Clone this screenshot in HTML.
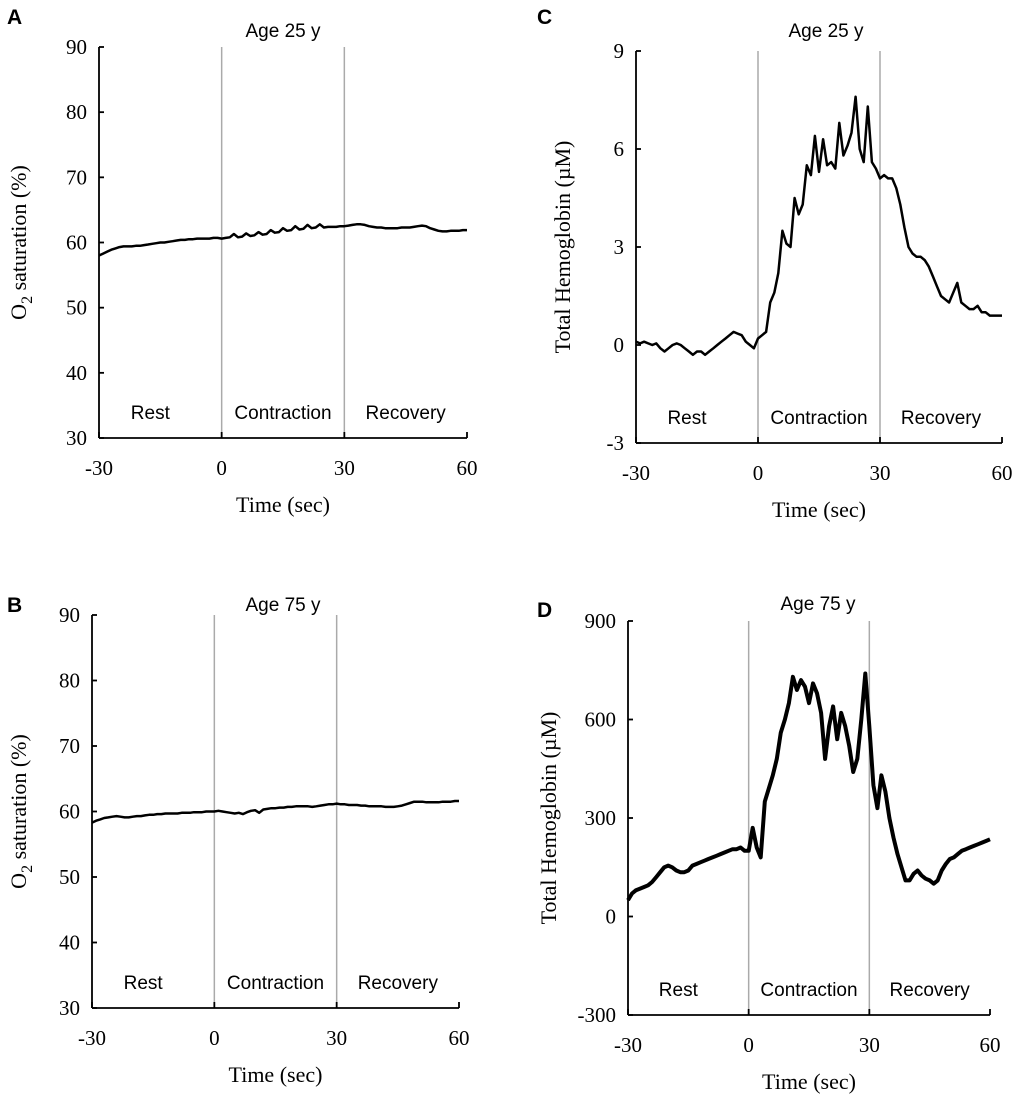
<!DOCTYPE html>
<html><head><meta charset="utf-8"><style>
body{margin:0;background:#fff}
svg text{fill:#000}
.tk{font-family:"Liberation Serif",serif;font-size:21px}
.sn{font-family:"Liberation Sans","DejaVu Sans",sans-serif;font-size:19px}
.ax{font-family:"Liberation Serif",serif;font-size:22px}
.lt{font-family:"Liberation Sans",sans-serif;font-size:21px;font-weight:bold}
</style></head><body>
<svg id="c" width="1020" height="1098" xmlns="http://www.w3.org/2000/svg"></svg>
<script>
const xTicks=[-30,0,30,60];
const aTicks=[30,40,50,60,70,80,90];
const cTicks=[-3,0,3,6,9];
const dTicks=[-300,0,300,600,900];
const timeSec=[];for(let t=-30;t<=60;t++)timeSec.push(t);
const seriesA=[58,58.3,58.6,58.9,59.1,59.3,59.4,59.4,59.4,59.5,59.5,59.6,59.7,59.8,59.9,60,60,60.1,60.2,60.3,60.4,60.4,60.5,60.5,60.6,60.6,60.6,60.6,60.7,60.7,60.6,60.7,60.8,61.3,60.8,60.9,61.4,61,61.1,61.6,61.2,61.3,61.9,61.5,61.6,62.2,61.8,61.9,62.5,62,62.1,62.7,62.2,62.3,62.8,62.3,62.4,62.4,62.4,62.5,62.5,62.6,62.7,62.8,62.8,62.7,62.5,62.4,62.3,62.3,62.2,62.2,62.2,62.2,62.3,62.3,62.3,62.4,62.5,62.6,62.5,62.2,62,61.8,61.7,61.7,61.8,61.8,61.8,61.9,61.9];
const seriesB=[58.3,58.6,58.8,59,59.1,59.2,59.3,59.2,59.1,59.1,59.2,59.3,59.3,59.4,59.5,59.5,59.6,59.6,59.7,59.7,59.7,59.7,59.8,59.8,59.8,59.9,59.9,59.9,60,60,60,60.1,60,59.9,59.8,59.7,59.8,59.6,59.9,60.1,60.2,59.8,60.3,60.4,60.5,60.5,60.6,60.6,60.7,60.7,60.8,60.8,60.8,60.8,60.7,60.8,60.9,61,61.1,61.1,61.2,61.1,61.1,61,61,61,60.9,60.9,60.8,60.8,60.8,60.8,60.7,60.7,60.7,60.8,60.9,61.1,61.3,61.5,61.5,61.5,61.4,61.4,61.4,61.4,61.5,61.5,61.5,61.6,61.6];
const seriesC=[0.1,0.05,0.1,0.05,0,0.05,-0.1,-0.2,-0.1,0,0.05,0,-0.1,-0.2,-0.3,-0.2,-0.2,-0.3,-0.2,-0.1,0,0.1,0.2,0.3,0.4,0.35,0.3,0.1,0,-0.1,0.2,0.3,0.4,1.3,1.6,2.2,3.5,3.1,3,4.5,4,4.3,5.5,5.2,6.4,5.3,6.3,5.5,5.6,5.4,6.8,5.8,6.1,6.5,7.6,6,5.6,7.3,5.6,5.4,5.1,5.2,5.1,5.1,4.8,4.3,3.6,3,2.8,2.7,2.7,2.6,2.4,2.1,1.8,1.5,1.4,1.3,1.6,1.9,1.3,1.2,1.1,1.1,1.2,1,1,0.9,0.9,0.9,0.9];
const seriesD=[50,70,80,85,90,95,105,120,135,150,155,150,140,135,135,140,155,160,165,170,175,180,185,190,195,200,205,205,210,200,200,270,210,180,350,390,430,480,560,600,650,730,690,720,700,650,710,680,620,480,580,640,540,620,580,520,440,480,600,740,580,400,330,430,380,300,240,190,150,110,110,130,140,125,115,110,100,110,140,160,175,180,190,200,205,210,215,220,225,230,235];
const NS='http://www.w3.org/2000/svg';
const svg=document.getElementById('c');
function mk(tag,attrs,parent){const e=document.createElementNS(NS,tag);for(const k in attrs)e.setAttribute(k,attrs[k]);(parent||svg).appendChild(e);return e;}
function txt(s,x,y,cls,parent,anchor){const e=mk('text',{x:x,y:y,class:cls,'text-anchor':anchor||'middle'},parent);e.textContent=s;return e;}
function panel(p){
  const g=mk('g',{});
  
  
  const X=v=>p.x0+(v+30)/90*(p.x1-p.x0);
  const Y=v=>p.yb+(v-p.ymin)/(p.ymax-p.ymin)*(p.yt-p.yb);
  [0,30].forEach(v=>{const l=mk('line',{x1:X(v),x2:X(v),y1:p.yt,y2:p.yb,stroke:'#aaa','stroke-width':1.5},g);
    
    });
  const ya=mk('line',{x1:p.x0,x2:p.x0,y1:p.yt,y2:p.yb,stroke:'#000','stroke-width':1.8},g);
  
  
  const xa=mk('line',{x1:p.x0,x2:p.x1,y1:p.yb,y2:p.yb,stroke:'#000','stroke-width':1.8},g);
  
  
  p.yt_.forEach(v=>{mk('line',{x1:p.x0,x2:p.x0+5,y1:Y(v),y2:Y(v),stroke:'#000','stroke-width':1.8},g);
    const t=txt(String(v),p.x0-12,Y(v)+7,'tk',g,'end');
    
    });
  xTicks.forEach(v=>{mk('line',{x1:X(v),x2:X(v),y1:p.yb,y2:p.yb-6,stroke:'#000','stroke-width':1.8},g);
    const t=txt(String(v),X(v),p.yb+37,'tk',g);
    
    });
  let d='';p.data.forEach((v,i)=>{d+=(i?'L':'M')+X(timeSec[i]).toFixed(1)+','+Y(v).toFixed(1);});
  const path=mk('path',{d:d,fill:'none',stroke:'#000','stroke-width':p.sw,'stroke-linejoin':'round'},g);
  
  
  const ty=p.yb-19;
  [['Rest',X(-15)-10],['Contraction',X(15)],['Recovery',X(45)]].forEach(a=>{const t=txt(a[0],a[1],ty,'sn',g);
    
    });
  const tt=txt(p.title,p.tx,p.tyy,'sn',g);
  
  
  const lt=txt(p.id,p.lx,p.ly,'lt',g,'start');
  
  
  const xt=txt('Time (sec)',(p.x0+p.x1)/2,p.yb+74,'ax',g);
  
  
  const yt=mk('text',{x:0,y:0,class:'ax','text-anchor':'middle',transform:`translate(${p.ytx},${(p.yt+p.yb)/2}) rotate(-90)`},g);
  
  
  if(p.o2){yt.innerHTML='O<tspan dy="6" font-size="16">2</tspan><tspan dy="-6"> saturation (%)</tspan>';}
  else yt.textContent='Total Hemoglobin (\u00b5M)';
}
panel({id:'A',x0:99,x1:467,yt:47,yb:438,ymin:30,ymax:90,yt_:aTicks,data:seriesA,sw:2.5,title:'Age 25 y',tx:283,tyy:37,lx:7,ly:24,ytx:26,o2:true});
panel({id:'B',x0:92,x1:459,yt:615,yb:1008,ymin:30,ymax:90,yt_:aTicks,data:seriesB,sw:2.5,title:'Age 75 y',tx:283,tyy:611,lx:7,ly:612,ytx:26,o2:true});
panel({id:'C',x0:636,x1:1002,yt:51,yb:443,ymin:-3,ymax:9,yt_:cTicks,data:seriesC,sw:2.5,title:'Age 25 y',tx:826,tyy:37,lx:537,ly:24,ytx:570});
panel({id:'D',x0:628,x1:990,yt:621,yb:1015,ymin:-300,ymax:900,yt_:dTicks,data:seriesD,sw:4,title:'Age 75 y',tx:818,tyy:610,lx:537,ly:617,ytx:556});
</script>
</body></html>
